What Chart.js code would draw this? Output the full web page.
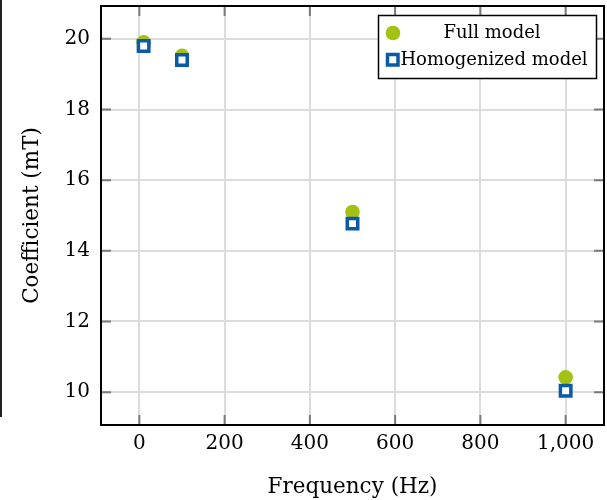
<!DOCTYPE html>
<html>
<head>
<meta charset="utf-8">
<script src="https://cdn.jsdelivr.net/npm/chart.js@4/dist/chart.umd.min.js"></script>
<style>
  html, body { margin: 0; padding: 0; background: #fff; }
  #wrap { width: 607px; height: 500px; }
</style>
</head>
<body>
<div id="wrap"><canvas id="coefChart" width="607" height="500"></canvas></div>
<script>
// data
const frequencies = [10, 100, 500, 1000];
const fullModel = [19.9, 19.52, 15.1, 10.42];
const homogenizedModel = [19.8, 19.4, 14.77, 10.04];
const xTickValues = [0, 200, 400, 600, 800, 1000];
const yTickValues = [10, 12, 14, 16, 18, 20];
const seriesNames = ['Full model', 'Homogenized model'];

const GREEN = '#a2c113';
const BLUE = '#0a5aa5';
const SERIF = '"DejaVu Serif", "Liberation Serif", serif';

function toPoints(xs, ys) {
    return xs.map((x, i) => ({ x: x, y: ys[i] }));
}

function noPadding(s) {
    s.paddingLeft = 0; s.paddingRight = 0; s.paddingTop = 0; s.paddingBottom = 0;
}

// 테두리, 안쪽 눈금, 범례
const framePlugin = {
    id: 'frame',
    beforeDatasetsDraw(chart) {
        const { ctx, chartArea: a } = chart;
        const xs = chart.scales.x, ys = chart.scales.y;
        ctx.save();
        ctx.strokeStyle = '#7a7a7a';
        ctx.lineWidth = 2;
        ctx.beginPath();
        xTickValues.forEach(v => {
            const px = xs.getPixelForValue(v);
            ctx.moveTo(px, a.bottom); ctx.lineTo(px, a.bottom - 10);
            ctx.moveTo(px, a.top); ctx.lineTo(px, a.top + 10);
        });
        yTickValues.forEach(v => {
            const py = ys.getPixelForValue(v);
            ctx.moveTo(a.left, py); ctx.lineTo(a.left + 10, py);
            ctx.moveTo(a.right, py); ctx.lineTo(a.right - 10, py);
        });
        ctx.stroke();
        ctx.restore();
    },
    afterDraw(chart) {
        const { ctx, chartArea: a } = chart;
        ctx.save();
        ctx.strokeStyle = '#000';
        ctx.lineWidth = 2;
        ctx.strokeRect(a.left, a.top, a.right - a.left, a.bottom - a.top);

        // 왼쪽 잘린 선
        ctx.fillStyle = '#222';
        ctx.fillRect(0, 0, 2, 417);

        // 범례 상자
        const bx = 378.5, by = 15.5, bw = 218, bh = 63;
        ctx.fillStyle = '#fff';
        ctx.fillRect(bx, by, bw, bh);
        ctx.lineWidth = 1.5;
        ctx.strokeRect(bx, by, bw, bh);

        ctx.fillStyle = GREEN;
        ctx.beginPath();
        ctx.arc(393, 33, 7.3, 0, Math.PI * 2);
        ctx.fill();

        ctx.fillStyle = '#fff';
        ctx.strokeStyle = BLUE;
        ctx.lineWidth = 3.5;
        ctx.fillRect(387.5, 54.5, 10.5, 10.5);
        ctx.strokeRect(387.5, 54.5, 10.5, 10.5);

        ctx.fillStyle = '#000';
        ctx.font = '18px ' + SERIF;
        ctx.textAlign = 'center';
        ctx.textBaseline = 'middle';
        ctx.fillText(seriesNames[0], 492, 33);
        ctx.fillText(seriesNames[1], 494, 60);
        ctx.restore();
    }
};

const ctx = document.getElementById('coefChart').getContext('2d');
const chart = new Chart(ctx, {
    type: 'scatter',
    data: {
        datasets: [
            {
                label: seriesNames[0],
                data: toPoints(frequencies, fullModel),
                pointStyle: 'circle',
                pointRadius: 7.3,
                pointBackgroundColor: GREEN,
                pointBorderWidth: 0,
                order: 2
            },
            {
                label: seriesNames[1],
                data: toPoints(frequencies, homogenizedModel),
                pointStyle: 'rect',
                pointRadius: 7.4,
                pointBackgroundColor: '#fff',
                pointBorderColor: BLUE,
                pointBorderWidth: 3.5,
                order: 1
            }
        ]
    },
    options: {
        responsive: false,
        animation: false,
        layout: { autoPadding: false, padding: { top: 6, right: 3, left: 0, bottom: 0 } },
        plugins: {
            legend: { display: false },
            tooltip: { enabled: false }
        },
        scales: {
            x: {
                type: 'linear',
                min: -90,
                max: 1090,
                afterBuildTicks: s => { s.ticks = xTickValues.map(v => ({ value: v })); },
                afterFit: s => { s.height = 75; noPadding(s); },
                grid: { color: '#dcdcdc', lineWidth: 2, drawTicks: false },
                border: { display: false },
                ticks: { color: '#000', padding: 7, font: { family: SERIF, size: 20 }, maxRotation: 0 },
                title: {
                    display: true, text: 'Frequency (Hz)', color: '#000',
                    font: { family: SERIF, size: 21.5 }, padding: { top: 0, bottom: 0 }
                }
            },
            y: {
                type: 'linear',
                min: 9.07,
                max: 20.93,
                afterBuildTicks: s => { s.ticks = yTickValues.map(v => ({ value: v })); },
                afterFit: s => { s.width = 101; noPadding(s); },
                grid: { color: '#dcdcdc', lineWidth: 2, drawTicks: false },
                border: { display: false },
                ticks: { color: '#000', padding: 11, font: { family: SERIF, size: 20 } },
                title: {
                    display: true, text: 'Coefficient (mT)', color: '#000',
                    font: { family: SERIF, size: 21.5 }, padding: { top: 20, bottom: 0 }
                }
            }
        }
    },
    plugins: [framePlugin]
});
</script>
</body>
</html>
